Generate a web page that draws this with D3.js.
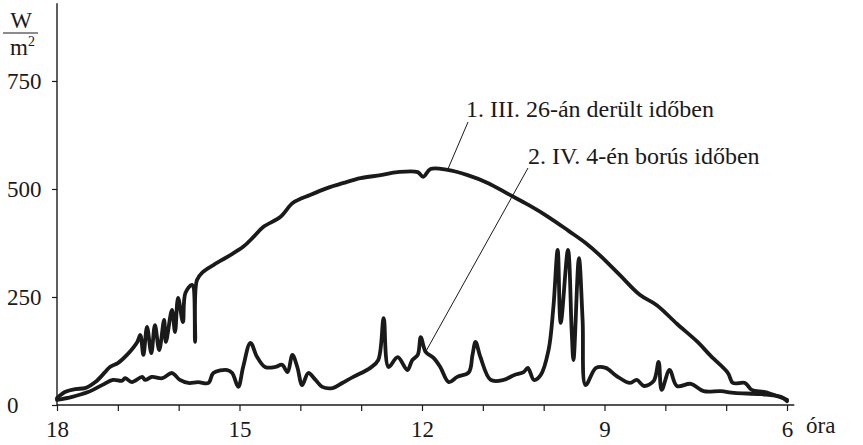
<!DOCTYPE html>
<html>
<head>
<meta charset="utf-8">
<script src="https://cdn.jsdelivr.net/npm/d3@7/dist/d3.min.js"></script>
<style>
  html, body { margin: 0; padding: 0; background: #fff; }
  svg { display: block; }
</style>
</head>
<body>
<svg id="chart" width="863" height="445"></svg>
<script>
// Global radiation on two days (W/m²), time in hours, the day running right to left
const hourTicks = [18, 17, 16, 15, 14, 13, 12, 11, 10, 9, 8, 7, 6];
const hourLabels = [18, 15, 12, 9, 6];
const valueTicks = [0, 250, 500, 750];

const seriesNames = ["1. III. 26-án derült időben", "2. IV. 4-én borús időben"];

// 1. clear sky, 26 March
const clearHours = [18.00, 17.87, 17.70, 17.54, 17.37, 17.21, 17.13, 17.00, 16.85, 16.68,
  16.63, 16.58, 16.52, 16.45, 16.39, 16.32, 16.24, 16.21, 16.11, 16.06,
  16.01, 15.93, 15.89, 15.78, 15.73, 15.70, 15.60, 15.43, 15.20, 14.94,
  14.77, 14.61, 14.33, 14.12, 13.84, 13.56, 13.29, 13.01, 12.68, 12.40,
  12.07, 11.98, 11.86, 11.58, 11.25, 10.92, 10.58, 10.25, 9.92, 9.59,
  9.31, 9.08, 8.75, 8.42, 8.14, 7.81, 7.47, 7.25, 6.97, 6.89,
  6.69, 6.58, 6.36, 6.13, 6.00];
const clearValues = [16, 30, 37, 39, 53, 76, 88, 97, 116, 146,
  162, 116, 181, 120, 185, 127, 197, 146, 220, 169,
  248, 192, 259, 278, 146, 289, 308, 324, 343, 366,
  389, 412, 435, 468, 486, 502, 514, 525, 532, 539,
  539, 528, 546, 544, 532, 514, 488, 463, 435, 403,
  375, 347, 301, 255, 231, 188, 146, 113, 74, 51,
  51, 35, 30, 19, 12];

// 2. overcast, 4 April
const cloudyHours = [18.00, 17.75, 17.49, 17.26, 17.08, 16.93, 16.88, 16.77, 16.60, 16.55,
  16.44, 16.27, 16.11, 15.98, 15.84, 15.68, 15.51, 15.43, 15.20, 15.12,
  15.02, 14.94, 14.82, 14.71, 14.58, 14.41, 14.30, 14.21, 14.13, 14.05,
  13.97, 13.87, 13.75, 13.64, 13.47, 13.31, 13.13, 12.85, 12.72, 12.63,
  12.55, 12.40, 12.24, 12.16, 12.07, 12.02, 11.94, 11.81, 11.70, 11.56,
  11.42, 11.23, 11.17, 11.12, 11.04, 10.87, 10.66, 10.49, 10.33, 10.26,
  10.16, 10.05, 9.92, 9.84, 9.77, 9.72, 9.60, 9.54, 9.51, 9.42,
  9.36, 9.31, 9.14, 8.98, 8.80, 8.58, 8.47, 8.35, 8.19, 8.11,
  8.06, 7.93, 7.81, 7.58, 7.37, 7.09, 6.87, 6.43, 6.10, 6.00];
const cloudyValues = [12, 19, 30, 46, 58, 56, 62, 53, 65, 58,
  65, 62, 74, 58, 51, 53, 51, 74, 81, 74,
  42, 88, 144, 111, 88, 88, 93, 76, 116, 88,
  46, 74, 58, 42, 39, 51, 65, 86, 104, 201,
  88, 111, 81, 104, 116, 157, 123, 109, 88, 53,
  65, 76, 116, 146, 111, 58, 58, 69, 76, 86,
  58, 69, 127, 227, 359, 190, 359, 174, 104, 340,
  197, 46, 86, 86, 67, 51, 58, 44, 56, 100,
  35, 81, 44, 49, 32, 32, 28, 25, 19, 9];

// Where each leader line meets its curve (hour, W/m²)
const leaderTargets = [[11.58, 544], [11.94, 123]];

const svg = d3.select("#chart");
const ink = "#1a1a1a";
const FONT = "'Liberation Serif'";

const x = d3.scaleLinear().domain([18, 6]).range([57, 787]);
const y = d3.scaleLinear().domain([0, 930]).range([405, 3.2]);

function serifText(sel, size) {
  return sel.style("font-family", FONT).style("font-size", (size || 23) + "px").attr("fill", ink);
}

// axes
const xAxis = d3.axisBottom(x)
  .tickValues(hourTicks)
  .tickSizeInner(6)
  .tickSizeOuter(0)
  .tickPadding(6)
  .tickFormat(d => hourLabels.includes(d) ? d : "");

const gx = svg.append("g")
  .attr("transform", `translate(0,${y(0)})`)
  .call(xAxis);
gx.select(".domain").remove();
gx.selectAll(".tick line").attr("stroke", ink).attr("stroke-width", 1.2);
serifText(gx.selectAll(".tick text")).attr("dy", "0.85em");

svg.append("line")
  .attr("x1", x(18)).attr("x2", x(5.88))
  .attr("y1", y(0)).attr("y2", y(0))
  .attr("stroke", ink).attr("stroke-width", 1.4);

const yAxis = d3.axisLeft(y)
  .tickValues(valueTicks)
  .tickSizeInner(5)
  .tickSizeOuter(0)
  .tickPadding(0);

const gy = svg.append("g")
  .attr("transform", `translate(${x(18)},0)`)
  .call(yAxis);
gy.select(".domain").remove();
gy.selectAll(".tick line").attr("stroke", ink).attr("stroke-width", 1.2);
serifText(gy.selectAll(".tick text"))
  .attr("text-anchor", "start")
  .attr("x", 7 - x(18));

svg.append("line")
  .attr("x1", x(18)).attr("x2", x(18))
  .attr("y1", y(0)).attr("y2", y(930))
  .attr("stroke", ink).attr("stroke-width", 1.4);

// unit label W / m²
serifText(svg.append("text")).attr("x", 21).attr("y", 28).attr("text-anchor", "middle").text("W");
svg.append("line").attr("x1", 3).attr("x2", 38).attr("y1", 33).attr("y2", 33)
  .attr("stroke", ink).attr("stroke-width", 1.2);
const m2 = serifText(svg.append("text")).attr("x", 10).attr("y", 55);
m2.append("tspan").text("m");
m2.append("tspan").style("font-size", "14px").attr("dy", -9).text("2");

serifText(svg.append("text"))
  .attr("x", 806).attr("y", 433)
  .text("óra");

// curves
const line = d3.line()
  .x(d => x(d[0]))
  .y(d => y(d[1]))
  .curve(d3.curveCatmullRom.alpha(0.5));

const clear = d3.zip(clearHours, clearValues);
const cloudy = d3.zip(cloudyHours, cloudyValues);

[clear, cloudy].forEach(data => {
  svg.append("path")
    .datum(data)
    .attr("d", line)
    .attr("fill", "none")
    .attr("stroke", ink)
    .attr("stroke-width", 3.8)
    .attr("stroke-linejoin", "round")
    .attr("stroke-linecap", "round");
});

// series labels with leader lines
const labelPos = [[466, 117, 468, 122], [528, 164, 528, 168]];
seriesNames.forEach((name, i) => {
  const [tx, ty, lx, ly] = labelPos[i];
  const [h, v] = leaderTargets[i];
  svg.append("line")
    .attr("x1", lx).attr("y1", ly)
    .attr("x2", x(h)).attr("y2", y(v))
    .attr("stroke", ink).attr("stroke-width", 1);
  serifText(svg.append("text"), 24)
    .attr("x", tx).attr("y", ty)
    .text(name);
});
</script>
</body>
</html>
